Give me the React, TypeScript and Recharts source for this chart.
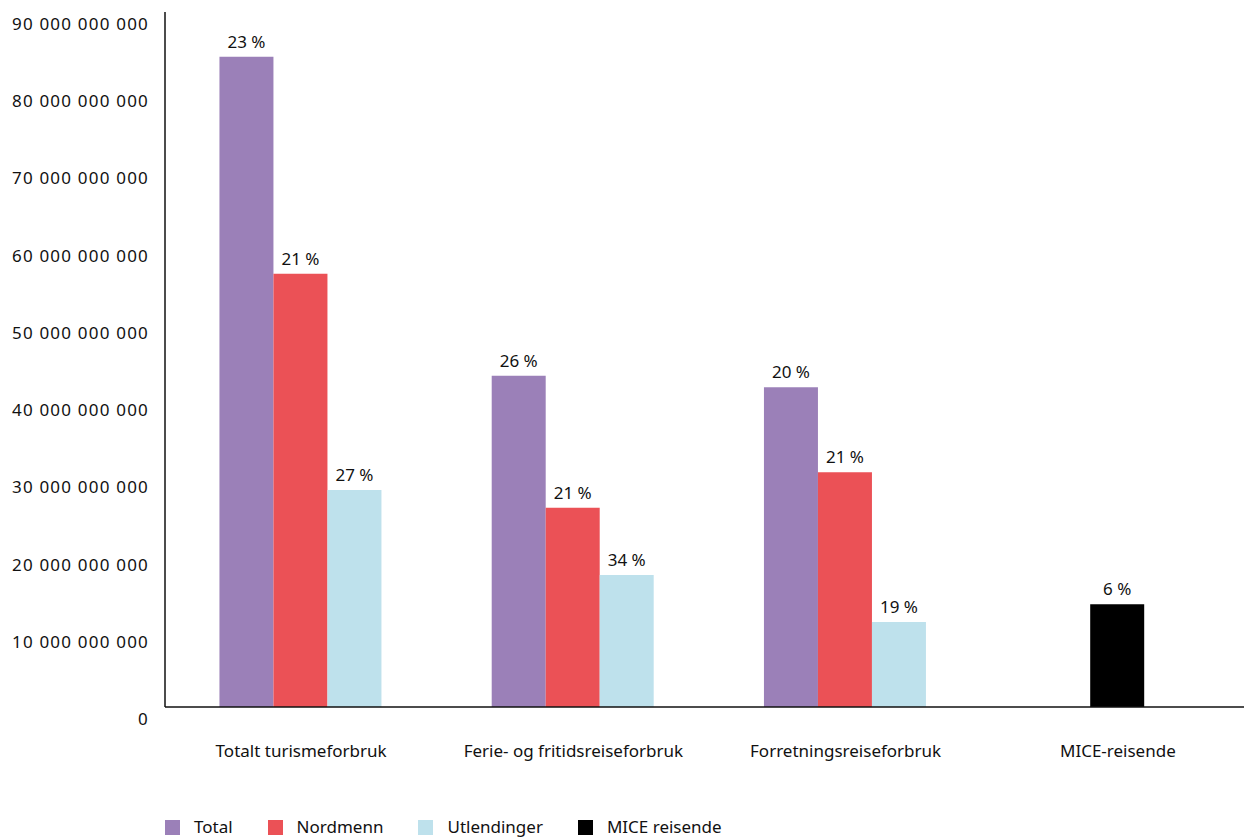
import React from "react";
import { BarChart, Bar, XAxis, YAxis, Cell, LabelList } from "recharts";

const categories = [
  "Totalt turismeforbruk",
  "Ferie- og fritidsreiseforbruk",
  "Forretningsreiseforbruk",
  "MICE-reisende",
];
const totalValues = [84.2e9, 42.9e9, 41.4e9, null];
const nordmennValues = [56.1e9, 25.8e9, 30.4e9, null];
const utlendingerValues = [28.1e9, 17.1e9, 11.0e9, null];
const miceValues = [null, null, null, 13.3e9];
const totalPct = ["23 %", "26 %", "20 %", ""];
const nordmennPct = ["21 %", "21 %", "21 %", ""];
const utlendingerPct = ["27 %", "34 %", "19 %", ""];
const micePct = ["", "", "", "6 %"];
const yTicks = [0, 10e9, 20e9, 30e9, 40e9, 50e9, 60e9, 70e9, 80e9, 90e9];

const COLORS = {
  total: "#9b80b8",
  nordmenn: "#eb5156",
  utlendinger: "#bee1ec",
  mice: "#000000",
};
const FONT = "'Noto Sans', sans-serif";

// MICE sits in the middle slot so it is centred in its group
const data = categories.map((name, i) => ({
  name,
  total: totalValues[i],
  middle: nordmennValues[i] ?? miceValues[i],
  utlendinger: utlendingerValues[i],
  totalPct: totalPct[i],
  middlePct: nordmennPct[i] || micePct[i],
  utlendingerPct: utlendingerPct[i],
  isMice: miceValues[i] != null,
}));

const fmt = (v: number) => v.toLocaleString("en-US").replace(/,/g, " ");

const YTick = ({ x, y, payload }: any) => (
  <text
    x={x - 8}
    y={y + 18}
    textAnchor="end"
    fill="#111"
    fontSize={17}
    letterSpacing={1.2}
    fontFamily={FONT}
  >
    {fmt(payload.value)}
  </text>
);

const XTick = ({ x, y, payload }: any) => (
  <text
    x={x}
    y={y + 42}
    textAnchor="middle"
    fill="#111"
    fontSize={17}
    fontFamily={FONT}
  >
    {payload.value}
  </text>
);

const legendItems = [
  { label: "Total", color: COLORS.total },
  { label: "Nordmenn", color: COLORS.nordmenn },
  { label: "Utlendinger", color: COLORS.utlendinger },
  { label: "MICE reisende", color: COLORS.mice },
];

const labelStyle = { fill: "#111", fontSize: 17, fontFamily: FONT };

export default function App() {
  return (
    <div
      style={{
        position: "absolute",
        left: 0,
        top: 0,
        width: 1244,
        height: 840,
        overflow: "hidden",
        background: "#fff",
      }}
    >
      <BarChart
        width={1256}
        height={840}
        data={data}
        margin={{ top: 12, right: 2, left: 0, bottom: 73 }}
        barCategoryGap="20%"
        barGap={0}
      >
        <XAxis
          dataKey="name"
          tick={XTick}
          tickLine={false}
          axisLine={{ stroke: "#111", strokeWidth: 1.5 }}
          height={60}
          interval={0}
        />
        <YAxis
          domain={[0, 90e9]}
          ticks={yTicks}
          tick={YTick}
          tickLine={false}
          axisLine={{ stroke: "#111", strokeWidth: 1.5 }}
          width={165}
        />
        <Bar dataKey="total" fill={COLORS.total} isAnimationActive={false}>
          <LabelList dataKey="totalPct" position="top" offset={9} style={labelStyle} />
        </Bar>
        <Bar dataKey="middle" fill={COLORS.nordmenn} isAnimationActive={false}>
          {data.map((d) => (
            <Cell key={d.name} fill={d.isMice ? COLORS.mice : COLORS.nordmenn} />
          ))}
          <LabelList dataKey="middlePct" position="top" offset={9} style={labelStyle} />
        </Bar>
        <Bar dataKey="utlendinger" fill={COLORS.utlendinger} isAnimationActive={false}>
          <LabelList dataKey="utlendingerPct" position="top" offset={9} style={labelStyle} />
        </Bar>
      </BarChart>
      <div
        style={{
          position: "absolute",
          left: 165,
          top: 816,
          display: "flex",
          fontFamily: FONT,
          fontSize: 17,
          color: "#111",
          lineHeight: "22px",
        }}
      >
        {legendItems.map((it) => (
          <div key={it.label} style={{ display: "flex", alignItems: "center", marginRight: 35 }}>
            <span
              style={{
                width: 15,
                height: 15,
                background: it.color,
                display: "inline-block",
                marginRight: 14,
              }}
            />
            {it.label}
          </div>
        ))}
      </div>
    </div>
  );
}
